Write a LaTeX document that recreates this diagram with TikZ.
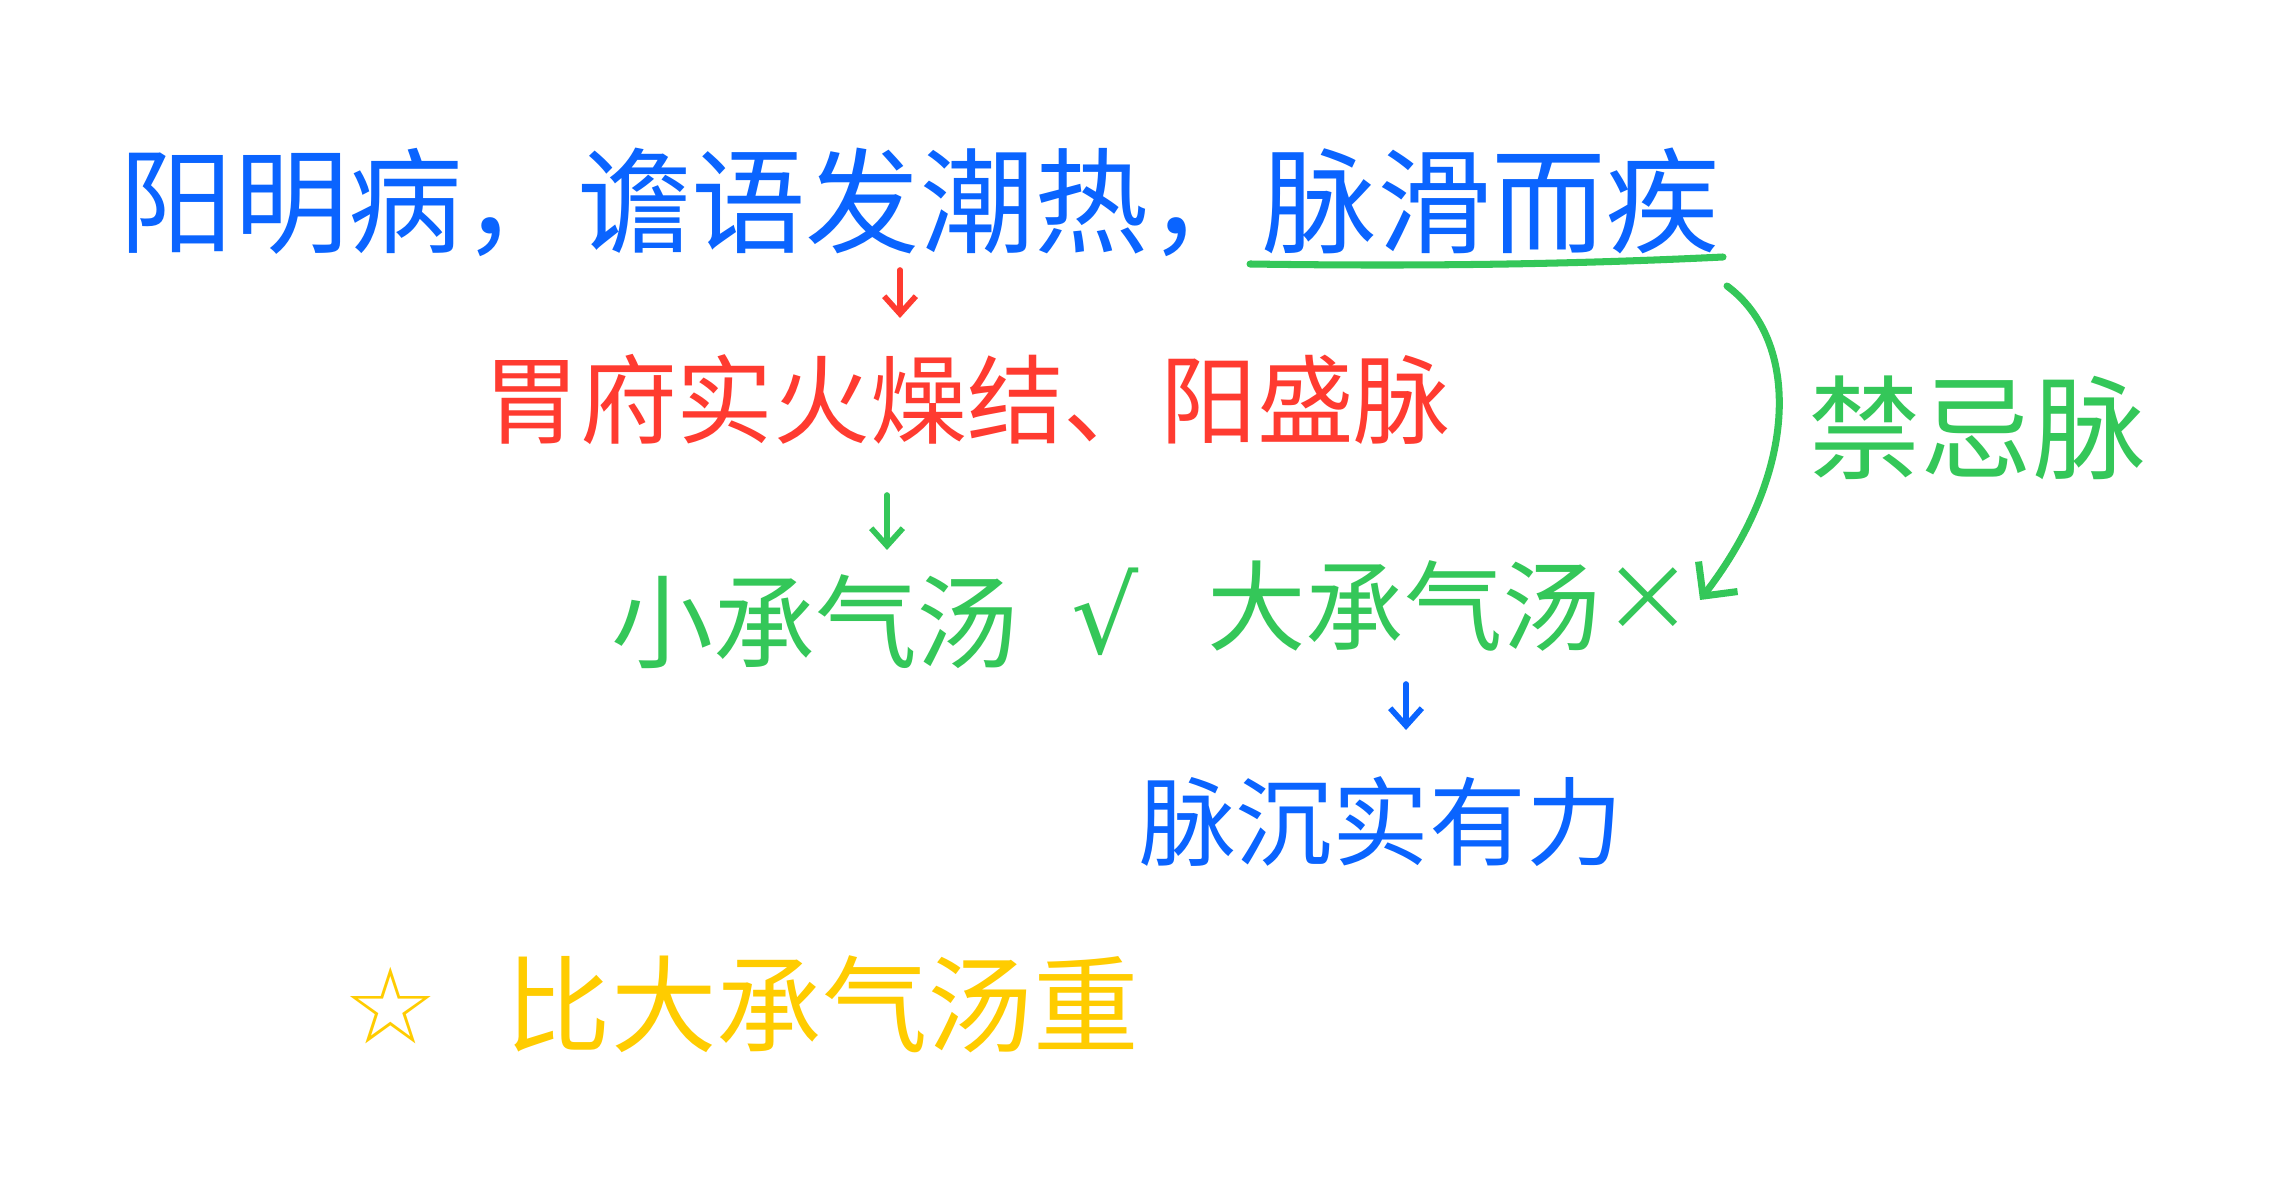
\documentclass[tikz,border=0pt]{standalone}
\usepackage{fontspec}
\setmainfont{Noto Sans CJK SC}
\newfontfamily\symfont{DejaVu Sans}
\usetikzlibrary{arrows.meta}
\definecolor{hblue}{HTML}{0A64FF}
\definecolor{hred}{HTML}{FF3B30}
\definecolor{hgreen}{HTML}{34C759}
\definecolor{hyellow}{HTML}{FFCC00}
\begin{document}
\begin{tikzpicture}[x=0.01cm,y=-0.01cm,
  txt/.style={inner sep=0pt, anchor=center},
  conn/.style={line width=1.6pt, line cap=round, -{Straight Barb[length=5pt,width=9pt]}},
  stroke/.style={line width=2pt, line cap=round}]
\useasboundingbox (0,0) rectangle (2280,1180);
\fill[white] (0,0) rectangle (2280,1180);
% texts
\node[txt, text=hblue, font=\fontsize{32.5}{36}\selectfont] (sym) at (920,202) {阳明病，谵语发潮热，脉滑而疾};
\node[txt, text=hred, font=\fontsize{27.5}{32}\selectfont] (path) at (967,400) {胃府实火燥结、阳盛脉};
\node[txt, text=hgreen, font=\fontsize{29}{33}\selectfont] (small) at (815,622) {小承气汤};
\node[txt, text=hgreen, font=\symfont\fontsize{30}{33}\selectfont] (ok) at (1105,612) {√};
\node[txt, text=hgreen, font=\fontsize{28}{32}\selectfont] (big) at (1404,606) {大承气汤};
\node[txt, text=hgreen, font=\fontsize{26}{30}\selectfont] (no) at (1648,600) {×};
\node[txt, text=hgreen, font=\fontsize{32}{36}\selectfont] (forbid) at (1977,428) {禁忌脉};
\node[txt, text=hblue, font=\fontsize{27.5}{32}\selectfont] (pulse) at (1381,822) {脉沉实有力};
\node[txt, text=hyellow, font=\symfont\fontsize{30}{34}\selectfont] (star) at (391,1006) {☆};
\node[txt, text=hyellow, font=\fontsize{30}{34}\selectfont] (heavy) at (822,1004) {比大承气汤重};
% connectors
\coordinate (r1) at (900,270);
\coordinate (r2) at (900,318);
\draw[conn, hred] (r1) -- (r2);
\coordinate (g1) at (887,495);
\coordinate (g2) at (887,550);
\draw[conn, hgreen] (g1) -- (g2);
\coordinate (b1) at (1406,684);
\coordinate (b2) at (1406,730);
\draw[conn, hblue] (b1) -- (b2);
% underline
\coordinate (u1) at (1250,264);
\coordinate (u2) at (1723,257);
\draw[stroke, hgreen] (u1) .. controls (1450,267) and (1600,263) .. (u2);
% curved arrow
\coordinate (c1) at (1727,286);
\coordinate (c2) at (1700,600);
\draw[conn, hgreen, line width=2pt, -{Straight Barb[length=7pt,width=14pt]}] (c1) .. controls (1800,340) and (1800,470) .. (c2);
\end{tikzpicture}
\end{document}
